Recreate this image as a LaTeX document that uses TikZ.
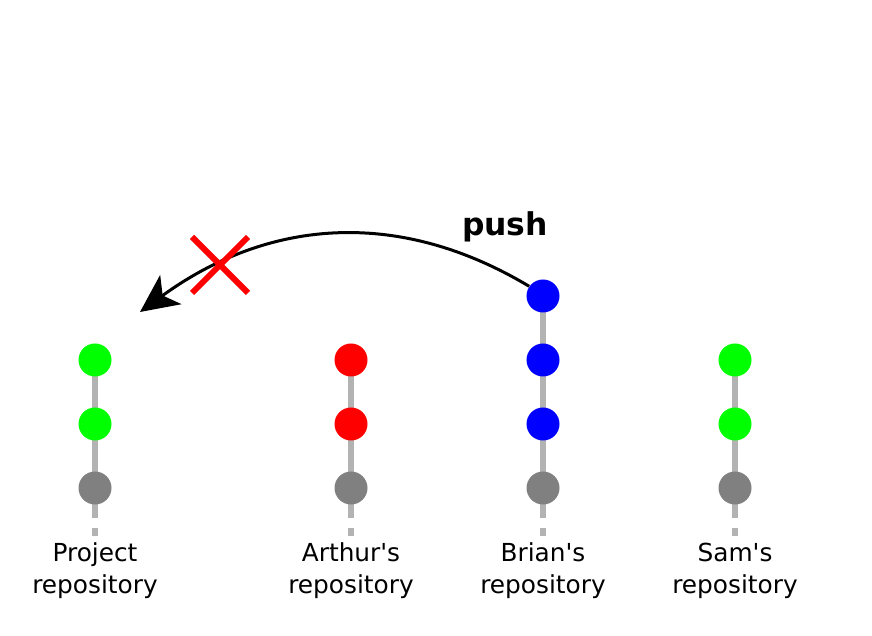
\documentclass[tikz,border=0pt]{standalone}
\usepackage{fontspec}
\setmainfont{DejaVu Sans}
\usetikzlibrary{arrows.meta,positioning,backgrounds}

\definecolor{stemgray}{HTML}{B3B3B3}
\definecolor{commitgray}{HTML}{808080}
\tikzset{
  commit/.style={circle, inner sep=0pt, minimum size=16.5pt},
  stem/.style={line width=3pt, stemgray},
  repolabel/.style={align=center, font=\fontsize{12.4}{16}\selectfont},
  crossmark/.style={line width=3pt, red},
}

\begin{document}
\begin{tikzpicture}[x=0.5pt, y=0.5pt, node distance=32pt]
\useasboundingbox (0,0) rectangle (872,636);

% project
\node[commit, fill=commitgray] (p1) at (95,148) {};
\node[commit, fill=green, above of=p1] (p2) {};
\node[commit, fill=green, above of=p2] (p3) {};
% arthur
\node[commit, fill=commitgray] (a1) at (351,148) {};
\node[commit, fill=red, above of=a1] (a2) {};
\node[commit, fill=red, above of=a2] (a3) {};
% brian
\node[commit, fill=commitgray] (b1) at (543,148) {};
\node[commit, fill=blue, above of=b1] (b2) {};
\node[commit, fill=blue, above of=b2] (b3) {};
\node[commit, fill=blue, above of=b3] (b4) {};
% sam
\node[commit, fill=commitgray] (s1) at (735,148) {};
\node[commit, fill=green, above of=s1] (s2) {};
\node[commit, fill=green, above of=s2] (s3) {};

\begin{pgfonlayer}{background}
\foreach \top/\bot in {p3/p1, a3/a1, b4/b1, s3/s1} {
  \draw[stem] (\top.center) -- ([yshift=-15pt]\bot.center);
  \draw[stem] ([yshift=-20pt]\bot.center) -- ([yshift=-24pt]\bot.center);
}
\end{pgfonlayer}

\node[repolabel] (plabel) at ([yshift=-41.5pt]p1.center) {Project\\repository};
\node[repolabel] (alabel) at ([yshift=-41.5pt]a1.center) {Arthur\textquotesingle s\\repository};
\node[repolabel] (blabel) at ([yshift=-41.5pt]b1.center) {Brian\textquotesingle s\\repository};
\node[repolabel] (slabel) at ([yshift=-41.5pt]s1.center) {Sam\textquotesingle s\\repository};

% push that is refused
\coordinate (tip) at (140,324);
\draw[line width=1.5pt, -{Stealth[length=19pt,width=18pt,inset=5pt]}]
  (b4.145) .. controls (395,430) and (265,415) .. (tip);
\node[font=\fontsize{15.7}{18}\selectfont\bfseries] (push) at (505,409) {push};

\coordinate (x) at (220,371);
\draw[crossmark] ([shift={(-14pt,-14pt)}]x) -- ([shift={(14pt,14pt)}]x);
\draw[crossmark] ([shift={(-14pt,14pt)}]x) -- ([shift={(14pt,-14pt)}]x);

\end{tikzpicture}
\end{document}
